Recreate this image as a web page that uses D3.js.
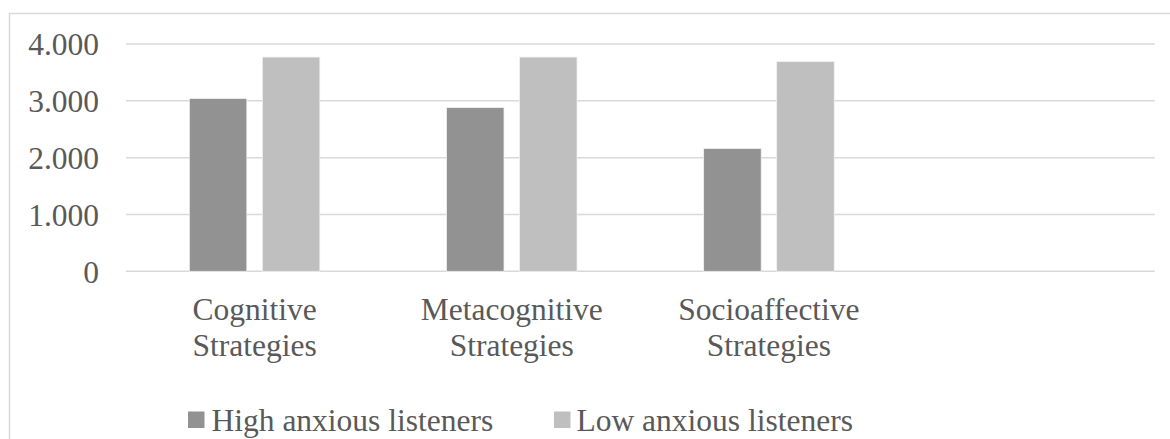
<!DOCTYPE html>
<html>
<head>
<meta charset="utf-8">
<script src="https://cdn.jsdelivr.net/npm/d3@7"></script>
<style>
  html, body { margin: 0; padding: 0; background: #fff; overflow: hidden; }
  svg { display: block; }
</style>
</head>
<body>
<svg id="chart" width="1170" height="439"></svg>
<script>
const categories = [["Cognitive", "Strategies"], ["Metacognitive", "Strategies"], ["Socioaffective", "Strategies"], ["", ""]];
const seriesNames = ["High anxious listeners", "Low anxious listeners"];
const highValues = [3.04, 2.88, 2.16, null];
const lowValues = [3.77, 3.77, 3.69, null];
const yTicks = [0, 1, 2, 3, 4];
const yTickLabels = ["0", "1.000", "2.000", "3.000", "4.000"];
const colors = ["#929292", "#bfbfbf"];

const FONT = "'Liberation Serif', Tinos, 'Times New Roman', 'DejaVu Serif', serif";
const svg = d3.select("#chart")
  .attr("font-family", FONT);
const fontSize = 31.5;
const textColor = "#595959";

// chart frame (extends beyond visible area on right and bottom)
svg.append("rect")
  .attr("x", 9.5).attr("y", 13.5)
  .attr("width", 1200).attr("height", 500)
  .attr("fill", "#fff").attr("stroke", "#d9d9d9").attr("stroke-width", 1.5);

const plot = { left: 126, right: 1154.7, top: 44, bottom: 271.3 };

const x = d3.scaleBand()
  .domain(d3.range(categories.length))
  .range([plot.left, plot.right])
  .paddingInner(0).paddingOuter(0);

const y = d3.scaleLinear().domain([0, 4]).range([plot.bottom, plot.top]);

// Excel-like bar geometry: gap width 219%, overlap -27%
const barW = x.bandwidth() * 0.2236;
const barGap = barW * 0.27;
const groupW = barW * 2 + barGap;

// gridlines
svg.append("g")
  .selectAll("line")
  .data(yTicks)
  .join("line")
  .attr("x1", plot.left).attr("x2", plot.right)
  .attr("y1", d => y(d)).attr("y2", d => y(d))
  .attr("stroke", "#d9d9d9").attr("stroke-width", 1.5);

// y labels
svg.append("g")
  .selectAll("text")
  .data(yTicks)
  .join("text")
  .attr("x", 99)
  .attr("y", d => y(d))
  .attr("dy", "0.36em")
  .attr("text-anchor", "end")
  .attr("font-size", fontSize)
  .attr("font-family", FONT)
  .attr("fill", textColor)
  .text((d, i) => yTickLabels[i]);

// bars
const series = [highValues, lowValues];
series.forEach((vals, si) => {
  svg.append("g")
    .selectAll("rect")
    .data(vals.map((v, i) => ({ v, i })).filter(d => d.v !== null))
    .join("rect")
    .attr("x", d => x(d.i) + (x.bandwidth() - groupW) / 2 + si * (barW + barGap))
    .attr("width", barW)
    .attr("y", d => y(d.v))
    .attr("height", d => y(0) - y(d.v))
    .attr("fill", colors[si])
    .attr("stroke", "#f2f2f2")
    .attr("stroke-width", 0.75);
});

// category labels
const catG = svg.append("g");
categories.forEach((lines, i) => {
  const t = catG.append("text")
    .attr("text-anchor", "middle")
    .attr("font-size", fontSize)
    .attr("font-family", FONT)
    .attr("fill", textColor);
  lines.forEach((ln, li) => {
    t.append("tspan")
      .attr("x", x(i) + x.bandwidth() / 2)
      .attr("y", 319.5 + li * 36)
      .text(ln);
  });
});

// legend
const legendItems = [{ sx: 188, tx: 211.5 }, { sx: 554, tx: 576.5 }];
legendItems.forEach((li, i) => {
  svg.append("rect")
    .attr("x", li.sx).attr("y", 411.5)
    .attr("width", 16.5).attr("height", 16.5)
    .attr("fill", colors[i]);
  svg.append("text")
    .attr("x", li.tx).attr("y", 430.5)
    .attr("font-size", fontSize)
    .attr("font-family", FONT)
    .attr("fill", textColor)
    .text(seriesNames[i]);
});
</script>
</body>
</html>
